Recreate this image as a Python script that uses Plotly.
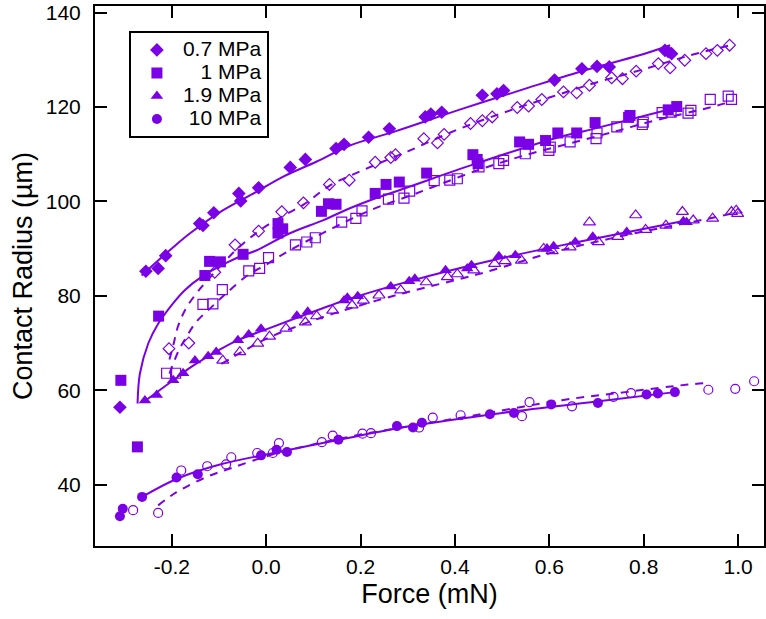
import plotly.graph_objects as go

PURPLE = "#7a00e6"
FONT = "Liberation Sans, Arial, Helvetica, sans-serif"

# ---------------- data ----------------
# 0.7 MPa
d07_fill_x = [-0.31, -0.255, -0.229, -0.213, -0.141, -0.134, -0.111, -0.058, -0.054, -0.016, 0.051, 0.083,
              0.148, 0.165, 0.217, 0.261, 0.337, 0.349, 0.372, 0.458, 0.489, 0.503, 0.611, 0.669, 0.701,
              0.727, 0.845, 0.852, 0.859]
d07_fill_y = [56.4, 85.2, 85.8, 88.5, 95.3, 94.9, 97.6, 101.7, 100.1, 102.9, 107.2, 108.9,
              111.2, 112.1, 113.6, 115.4, 117.9, 118.5, 118.9, 122.5, 122.8, 123.5, 125.7, 128.1, 128.6,
              128.5, 132.0, 131.7, 131.3]
d07_open_x = [-0.206, -0.164, -0.109, -0.066, -0.016, 0.033, 0.079, 0.134, 0.176, 0.231, 0.264, 0.274,
              0.334, 0.363, 0.377, 0.433, 0.458, 0.479, 0.532, 0.556, 0.584, 0.630, 0.658, 0.685, 0.732,
              0.755, 0.784, 0.831, 0.856, 0.887, 0.932, 0.956, 0.982]
d07_open_y = [68.8, 70.0, 85.0, 90.8, 93.7, 97.8, 99.7, 103.6, 104.5, 108.3, 109.3, 109.9,
              113.3, 112.4, 114.2, 116.5, 117.1, 117.9, 119.9, 120.2, 121.6, 123.2, 123.0, 124.6, 126.2,
              126.0, 127.6, 129.2, 128.3, 129.9, 131.3, 132.0, 133.1]
d07_fit_x = [-0.264, -0.25, -0.197, -0.162, -0.092, -0.021, 0.035, 0.106, 0.176, 0.275, 0.415, 0.556,
             0.683, 0.789, 0.856]
d07_fit_y = [84.3, 85.6, 90.3, 93.2, 98.1, 102.0, 105.2, 108.4, 111.8, 114.9, 119.6, 124.1,
             128.0, 130.9, 133.1]
d07_dfit_x = [-0.205, -0.197, -0.187, -0.169, -0.14, -0.109, -0.066, -0.016, 0.033, 0.079, 0.134, 0.204,
              0.3, 0.4, 0.5, 0.6, 0.7, 0.8, 0.9, 0.98]
d07_dfit_y = [66.5, 69.5, 73.5, 77.5, 81.5, 85.0, 89.5, 93.7, 96.8, 99.3, 103.3, 106.6,
              110.6, 115.0, 118.7, 122.0, 125.2, 128.0, 131.0, 133.0]

# 1 MPa
d1_fill_x = [-0.308, -0.273, -0.228, -0.130, -0.120, -0.097, -0.049, 0.025, 0.025, 0.035, 0.117, 0.132,
             0.148, 0.231, 0.254, 0.282, 0.340, 0.438, 0.447, 0.449, 0.537, 0.556, 0.592, 0.618, 0.658,
             0.697, 0.768, 0.771, 0.852, 0.870]
d1_fill_y = [62.1, 48.0, 75.7, 84.3, 87.3, 87.2, 88.8, 95.3, 93.3, 94.2, 97.9, 99.5,
             99.4, 101.7, 103.6, 104.1, 106.0, 109.9, 108.9, 108.0, 112.6, 112.1, 112.9, 114.5, 114.5,
             116.7, 117.8, 118.2, 119.4, 120.1]
d1_open_x = [-0.211, -0.192, -0.134, -0.113, -0.093, -0.037, -0.014, 0.005, 0.062, 0.086, 0.104, 0.160,
             0.190, 0.203, 0.259, 0.292, 0.304, 0.356, 0.389, 0.405, 0.451, 0.493, 0.503, 0.549, 0.599,
             0.602, 0.644, 0.699, 0.701, 0.743, 0.797, 0.799, 0.839, 0.858, 0.894, 0.900, 0.941, 0.979,
             0.986]
d1_open_y = [63.6, 63.6, 78.2, 78.3, 81.3, 85.3, 85.8, 88.1, 90.8, 91.4, 92.3, 95.6,
             96.4, 98.0, 100.5, 100.7, 102.2, 104.4, 104.5, 104.8, 107.3, 108.0, 108.7, 110.1, 110.8,
             111.5, 112.6, 113.3, 114.5, 115.8, 116.3, 116.8, 118.8, 118.9, 118.7, 119.3, 121.6, 122.3,
             121.6]
d1_fit_x = [-0.2726, -0.2677, -0.25, -0.229, -0.2007, -0.1726, -0.137, -0.088, -0.049, -0.021, 0.049,
            0.12, 0.176, 0.219, 0.3, 0.444, 0.62, 0.683, 0.87]
d1_fit_y = [57.2, 63.5, 69.9, 74.1, 78.0, 81.2, 84.0, 86.8, 88.6, 89.6, 93.2,
            96.0, 98.5, 100.2, 103.0, 108.0, 113.6, 115.1, 119.9]
d1_dfit_x = [-0.205, -0.185, -0.169, -0.148, -0.116, -0.085, -0.04, 0.0, 0.049, 0.12, 0.225, 0.313,
             0.352, 0.454, 0.556, 0.655, 0.746, 0.81, 0.94, 0.98]
d1_dfit_y = [63.5, 68.5, 71.3, 74.5, 77.6, 80.5, 84.3, 86.6, 89.6, 93.3, 98.3, 101.5,
             103.0, 106.8, 110.0, 112.6, 115.0, 116.8, 119.9, 121.0]

# 1.9 MPa
d19_fill_x = [-0.257, -0.232, -0.197, -0.176, -0.151, -0.123, -0.106, -0.060, -0.037, -0.011, 0.065, 0.088,
              0.165, 0.172, 0.194, 0.264, 0.303, 0.315, 0.380, 0.426, 0.435, 0.493, 0.528, 0.595, 0.609,
              0.655, 0.692, 0.764, 0.884, 0.891]
d19_fill_y = [57.8, 59.0, 62.1, 63.6, 66.3, 67.2, 68.1, 70.6, 71.8, 73.0, 75.8, 76.6,
              79.0, 79.6, 79.9, 82.0, 83.1, 83.6, 85.4, 85.8, 86.5, 88.4, 88.6, 90.0, 90.5,
              91.4, 92.5, 93.5, 95.8, 95.6]
d19_open_x = [-0.092, -0.056, -0.018, 0.007, 0.042, 0.083, 0.107, 0.141, 0.182, 0.206, 0.239, 0.285,
              0.339, 0.384, 0.405, 0.440, 0.484, 0.506, 0.541, 0.588, 0.606, 0.644, 0.685, 0.704, 0.745,
              0.783, 0.804, 0.847, 0.882, 0.905, 0.946, 0.986, 0.996, 0.999]
d19_open_y = [66.3, 68.1, 69.9, 71.4, 73.1, 74.4, 75.7, 76.9, 78.0, 79.0, 80.1, 81.2,
              82.9, 84.0, 84.6, 85.4, 86.8, 87.4, 87.5, 90.0, 89.5, 90.3, 95.6, 91.4, 92.5,
              97.1, 94.0, 94.9, 97.8, 96.0, 96.4, 97.8, 98.1, 97.4]
d19_fit_x = [-0.26, -0.2, -0.158, -0.1, -0.06, 0.0, 0.134, 0.165, 0.3, 0.5, 0.655, 0.887]
d19_fit_y = [57.5, 61.9, 65.0, 68.5, 70.6, 72.9, 77.9, 79.0, 83.0, 88.0, 91.3, 95.9]
d19_dfit_x = [-0.095, -0.05, 0.0, 0.1, 0.2, 0.3, 0.45, 0.6, 0.75, 0.9, 0.972, 1.0]
d19_dfit_y = [65.6, 68.2, 70.9, 74.8, 78.0, 80.8, 84.6, 89.0, 92.6, 95.6, 97.1, 97.8]

# 10 MPa
d10_fill_x = [-0.310, -0.304, -0.263, -0.190, -0.145, -0.011, 0.022, 0.044, 0.153, 0.277, 0.311, 0.330,
              0.474, 0.525, 0.604, 0.703, 0.806, 0.830, 0.866]
d10_fill_y = [33.3, 34.9, 37.4, 41.5, 42.2, 46.2, 47.4, 46.9, 49.5, 52.4, 52.1, 53.1,
              54.9, 55.2, 57.0, 57.3, 59.1, 59.3, 59.6]
d10_open_x = [-0.282, -0.229, -0.180, -0.125, -0.085, -0.074, -0.019, 0.014, 0.027, 0.118, 0.141, 0.204,
              0.222, 0.324, 0.353, 0.412, 0.542, 0.558, 0.648, 0.736, 0.773, 0.937, 0.994, 1.034]
d10_open_y = [34.6, 34.0, 43.0, 43.9, 44.3, 45.8, 46.7, 46.7, 48.8, 49.0, 50.4, 50.8,
              50.9, 52.1, 54.2, 54.7, 54.5, 57.5, 56.6, 58.6, 59.4, 60.1, 60.3, 61.9]
d10_fit_x = [-0.263, -0.19, -0.1, 0.0, 0.15, 0.3, 0.5, 0.7, 0.866]
d10_fit_y = [37.4, 41.2, 44.2, 46.4, 49.4, 52.3, 55.2, 57.6, 59.6]
d10_dfit_x = [-0.229, -0.19, -0.127, -0.071, 0.007, 0.077, 0.2, 0.366, 0.437, 0.627, 0.761, 0.894, 0.933]
d10_dfit_y = [35.6, 38.4, 41.6, 43.6, 46.2, 48.0, 50.6, 53.4, 54.6, 57.9, 59.6, 61.2, 61.5]

labels = ["0.7 MPa", "\u2007\u20081 MPa", "1.9 MPa", "\u200810 MPa"]

x_tickvals = [-0.2, 0.0, 0.2, 0.4, 0.6, 0.8, 1.0]
x_ticktext = ["-0.2", "0.0", "0.2", "0.4", "0.6", "0.8", "1.0"]
y_tickvals = [40, 60, 80, 100, 120, 140]
y_ticktext = ["40", "60", "80", "100", "120", "140"]

# ---------------- figure ----------------
series = [
    (d07_fill_x, d07_fill_y, d07_open_x, d07_open_y, d07_fit_x, d07_fit_y, d07_dfit_x, d07_dfit_y,
     "diamond", 10.5, 9.0),
    (d1_fill_x, d1_fill_y, d1_open_x, d1_open_y, d1_fit_x, d1_fit_y, d1_dfit_x, d1_dfit_y,
     "square", 11, 10),
    (d19_fill_x, d19_fill_y, d19_open_x, d19_open_y, d19_fit_x, d19_fit_y, d19_dfit_x, d19_dfit_y,
     "triangle-up", 11, 10.5),
    (d10_fill_x, d10_fill_y, d10_open_x, d10_open_y, d10_fit_x, d10_fit_y, d10_dfit_x, d10_dfit_y,
     "circle", 10, 9),
]

fig = go.Figure()
for i, (fx, fy, ox, oy, lx, ly, dx, dy, sym, fs, os_) in enumerate(series):
    fig.add_trace(go.Scatter(x=dx, y=dy, mode="lines", line=dict(color=PURPLE, width=2, dash="8px,7px"),
                             line_shape="spline", showlegend=False, hoverinfo="skip"))
    fig.add_trace(go.Scatter(x=lx, y=ly, mode="lines", line=dict(color=PURPLE, width=2),
                             line_shape="spline", showlegend=False, hoverinfo="skip"))
    fig.add_trace(go.Scatter(x=ox, y=oy, mode="markers", showlegend=False,
                             marker=dict(symbol=sym + "-open", size=os_, color=PURPLE,
                                         line=dict(color=PURPLE, width=1.2))))
    fig.add_trace(go.Scatter(x=fx, y=fy, mode="markers",
                             name='<span style="font-size:21px">' + labels[i] + "</span>",
                             marker=dict(symbol=sym, size=fs, color=PURPLE, line=dict(width=0))))

axis_common = dict(showgrid=False, zeroline=False, showline=True, linecolor="black", linewidth=2,
                   mirror="ticks", ticks="inside", ticklen=12, tickwidth=1.5, tickcolor="black",
                   tickfont=dict(family=FONT, size=21, color="black"))

fig.update_layout(
    width=766, height=619,
    margin=dict(l=95, r=0, t=6, b=73),
    paper_bgcolor="white", plot_bgcolor="white",
    font=dict(family=FONT, color="black"),
    xaxis=dict(range=[-0.3628, 1.0549], tickvals=x_tickvals, ticktext=x_ticktext,
               title=dict(text="Force (mN)", font=dict(family=FONT, size=27), standoff=7),
               ticklabelstandoff=1, **axis_common),
    yaxis=dict(range=[27.0, 141.4], tickvals=y_tickvals, ticktext=y_ticktext,
               title=dict(text="Contact Radius (µm)", font=dict(family=FONT, size=27), standoff=5),
               ticklabelstandoff=8, **axis_common),
    legend=dict(x=0.0507, y=0.953, xanchor="left", yanchor="top",
                bordercolor="black", borderwidth=2, bgcolor="white",
                font=dict(family=FONT, size=15.4, color="black"),
                itemwidth=42, traceorder="normal"),
    showlegend=True,
)

fig.write_html("out.html")
